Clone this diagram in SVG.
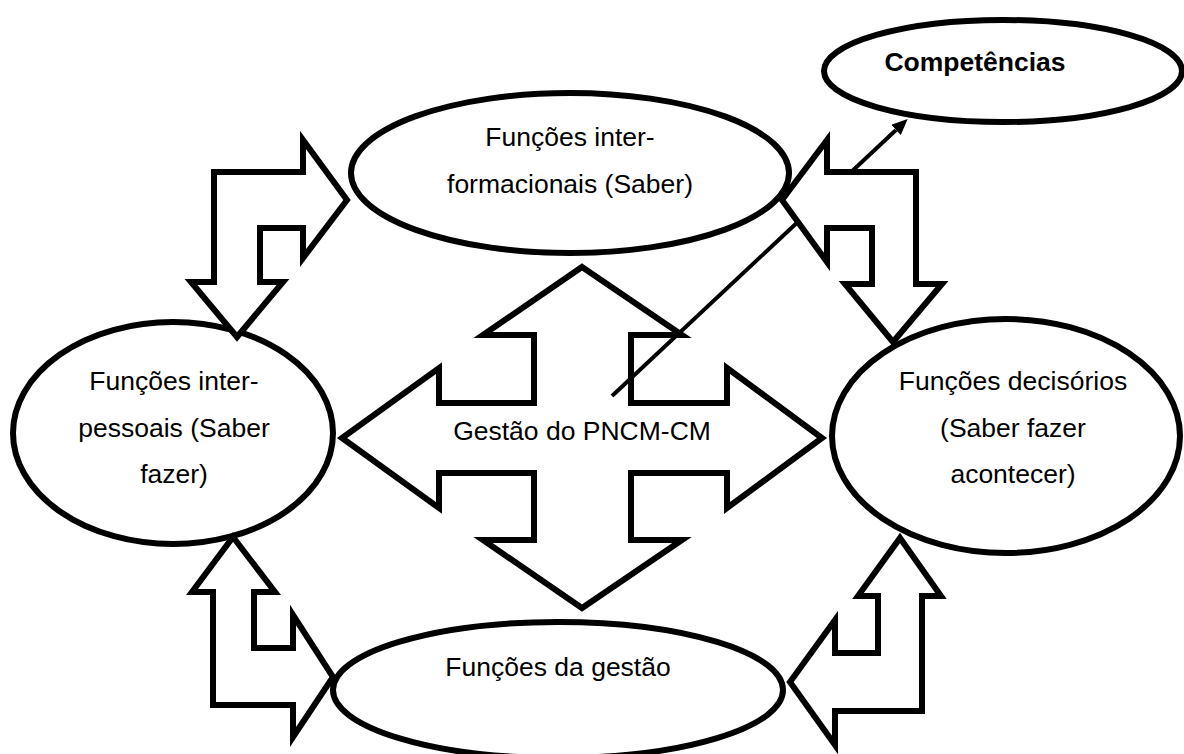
<svg xmlns="http://www.w3.org/2000/svg" width="1184" height="754" viewBox="0 0 1184 754">
  <style>
    .shape { fill: #ffffff; stroke: #000000; stroke-width: 6; stroke-linejoin: miter; stroke-miterlimit: 10; }
    .label { font-family: "Liberation Sans", Arial, sans-serif; font-size: 26.5px; fill: #000000; text-anchor: middle; }
    .bold { font-weight: bold; }
    .link { stroke: #000000; stroke-width: 4; fill: none; }
  </style>
  <defs>
    <marker id="arrowhead" viewBox="0 0 16 14" refX="0" refY="7" markerWidth="16" markerHeight="14" markerUnits="userSpaceOnUse" orient="auto">
      <path d="M0,0 L16,7 L0,14 z" fill="#000000"/>
    </marker>
  </defs>

  <rect x="0" y="0" width="1184" height="754" fill="#ffffff"/>

  <!-- Nodes -->
  <g id="node-competencias">
    <ellipse class="shape" cx="1003" cy="71" rx="179" ry="51"/>
    <text class="label bold" x="975" y="71">Competências</text>
  </g>

  <g id="node-informacionais">
    <ellipse class="shape" cx="570" cy="173" rx="219" ry="80"/>
    <text class="label" x="570" y="146">Funções inter-</text>
    <text class="label" x="570" y="193">formacionais (Saber)</text>
  </g>

  <g id="node-interpessoais">
    <ellipse class="shape" cx="173" cy="433" rx="160" ry="111"/>
    <text class="label" x="174" y="390">Funções inter-</text>
    <text class="label" x="174" y="437">pessoais (Saber</text>
    <text class="label" x="174" y="483">fazer)</text>
  </g>

  <g id="node-decisorios">
    <ellipse class="shape" cx="1006" cy="436" rx="174" ry="117"/>
    <text class="label" x="1013" y="390">Funções decisórios</text>
    <text class="label" x="1013" y="437">(Saber fazer</text>
    <text class="label" x="1013" y="483">acontecer)</text>
  </g>

  <g id="node-gestao-funcoes">
    <ellipse class="shape" cx="558" cy="690" rx="225" ry="68"/>
    <text class="label" x="558" y="676">Funções da gestão</text>
  </g>

  <!-- Central four-way arrow -->
  <g id="node-gestao-pncm">
    <polygon class="shape" points="582,267 682,335 631,335 631,403 727,403 727,368 822,438 727,508 727,473 631,473 631,540 682,540 582,608 483,540 534,540 534,473 439,473 439,508 342,438 439,368 439,403 534,403 534,335 483,335"/>
    <text class="label" x="582" y="440">Gestão do PNCM-CM</text>
  </g>

  <!-- Connectors -->
  <g id="connectors">
    <line class="link" x1="612" y1="396" x2="896" y2="130" marker-end="url(#arrowhead)"/>
    <!-- top-left bent arrow -->
    <polygon class="shape" points="214,172 303,172 303,140 347,200 303,258 303,228 260,228 260,282 283,282 237,337 191,282 214,282"/>
    <!-- top-right bent arrow -->
    <polygon class="shape" points="782,200 827,140 827,172 916,172 916,284 942,284 893,342 845,284 872,284 872,228 827,228 827,262"/>
    <!-- bottom-left bent arrow -->
    <polygon class="shape" points="233,537 275,592 254,592 254,648 293,648 293,615 333,677 293,737 293,705 213,705 213,592 192,592"/>
    <!-- bottom-right bent arrow -->
    <polygon class="shape" points="900,538 941,596 922,596 922,711 835,711 835,745 790,682 835,620 835,653 878,653 878,596 858,596"/>
  </g>
</svg>
